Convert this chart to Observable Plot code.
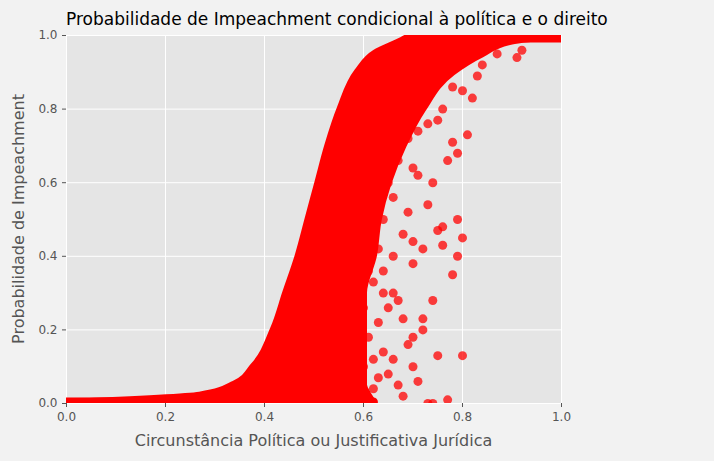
<!DOCTYPE html>
<html><head><meta charset="utf-8">
<script src="https://cdn.jsdelivr.net/npm/d3@7"></script>
<script src="https://cdn.jsdelivr.net/npm/@observablehq/plot@0.6"></script>
<style>
body{margin:0;background:#f2f2f2;font-family:"DejaVu Sans",sans-serif;}
#wrap{position:relative;width:714px;height:461px;}
#title{position:absolute;top:9px;left:66px;font-size:17px;color:#000;white-space:nowrap;}
#xl{position:absolute;top:431px;left:66px;width:495px;text-align:center;font-size:16px;color:#555;}
#yl{position:absolute;left:18px;top:219px;font-size:16px;color:#555;white-space:nowrap;transform:translate(-50%,-50%) rotate(-90deg);transform-origin:center;}
#chart{position:absolute;top:0;left:0;}
</style></head><body><div id="wrap"><div id="chart"></div><div id="title">Probabilidade de Impeachment condicional à política e o direito</div>
<div id="xl">Circunstância Política ou Justificativa Jurídica</div><div id="yl" style="left:18px">Probabilidade de Impeachment</div></div>
<script>
// dense band boundaries (y = probability, xl = left edge, xr = right edge)
const bandY  = [0.0, 0.02, 0.05, 0.1, 0.2, 0.3, 0.4, 0.5, 0.6, 0.7, 0.8, 0.9, 0.95, 0.985, 1.0];
const bandXL = [0.0, 0.27, 0.34, 0.38, 0.42, 0.445, 0.47, 0.49, 0.51, 0.53, 0.555, 0.59, 0.625, 0.68, 0.70];
const bandXR = [0.62, 0.61, 0.60, 0.60, 0.60, 0.60, 0.62, 0.63, 0.65, 0.68, 0.72, 0.78, 0.84, 0.90, 1.0];
// flat floor band
const floorX = [0.0, 0.2, 0.62];
const floorY = [0.004, 0.005, 0.004];
// top ceiling band
const ceilX = [0.70, 1.0];
const ceilY = [0.993, 0.993];
// scattered points
const sx = [0.92,0.91,0.87,0.83,0.82,0.80,0.81,0.79,0.77,0.78,0.75,0.74,0.75,0.79,0.80,0.76,0.79,0.78,0.76,0.72,0.70,0.74,0.75,0.80,0.72,0.70,0.77,0.74,0.73,0.66,0.68,0.70,0.65,0.72,0.62,0.67,
  0.86,0.84,0.78,0.76,0.73,0.71,0.69,0.67,0.71,0.73,0.69,0.66,0.64,0.68,0.70,0.66,0.64,0.62,0.65,0.67,0.63,0.61,0.69,0.71,0.64,0.66,0.62,0.63,0.68,0.60,0.61,0.63,0.65,0.70,0.72,0.61,0.64,0.66,0.68,0.62,0.60,0.64];
const sy = [0.96,0.94,0.95,0.89,0.83,0.85,0.73,0.68,0.66,0.71,0.77,0.60,0.47,0.50,0.45,0.48,0.40,0.35,0.43,0.42,0.38,0.28,0.13,0.13,0.20,0.18,0.01,0.00,0.00,0.30,0.23,0.10,0.08,0.23,0.12,0.05,
  0.98,0.92,0.86,0.80,0.76,0.74,0.72,0.66,0.62,0.54,0.52,0.56,0.50,0.46,0.44,0.40,0.36,0.33,0.26,0.28,0.22,0.18,0.16,0.06,0.14,0.12,0.04,0.07,0.02,0.26,0.36,0.42,0.60,0.64,0.82,0.70,0.68,0.88,0.90,0.48,0.10,0.30];
const xTicks = [0,0.2,0.4,0.6,0.8,1.0];
const yTicks = [0,0.2,0.4,0.6,0.8,1.0];

const band = bandY.map((y,i)=>({y, xl:bandXL[i], xr:bandXR[i]}));
const floor = floorX.map((x,i)=>({x,y:floorY[i]}));
const ceil = ceilX.map((x,i)=>({x,y:ceilY[i]}));
const pts = sx.map((x,i)=>({x,y:sy[i]}));

const chart = Plot.plot({
  width:714, height:461,
  marginLeft:66, marginRight:153, marginTop:35, marginBottom:58,
  style:{background:"transparent", fontSize:"12px", fontFamily:"DejaVu Sans"},
  x:{domain:[0,1], axis:null},
  y:{domain:[0,1], axis:null},
  marks:[
    Plot.frame({fill:"#e5e5e5"}),
    Plot.gridX(xTicks,{stroke:"white", strokeOpacity:1, strokeWidth:1}),
    Plot.gridY(yTicks,{stroke:"white", strokeOpacity:1, strokeWidth:1}),
    Plot.areaX(band,{y:"y", x1:"xl", x2:"xr", fill:"red", stroke:"red", strokeWidth:8, curve:"monotone-y", clip:true}),
    Plot.line(floor,{x:"x", y:"y", stroke:"red", strokeWidth:9, clip:true}),
    Plot.line(ceil,{x:"x", y:"y", stroke:"red", strokeWidth:9, clip:true}),
    Plot.dot(pts,{x:"x", y:"y", r:4.5, fill:"red", fillOpacity:0.75, clip:true}),
    Plot.axisX(xTicks,{tickFormat:d=>d.toFixed(1), color:"#555", tickSize:4, label:null, fontSize:12}),
    Plot.axisY(yTicks,{tickFormat:d=>d.toFixed(1), color:"#555", tickSize:4, label:null, fontSize:12})
  ]
});
document.getElementById("chart").appendChild(chart);
</script></body></html>
